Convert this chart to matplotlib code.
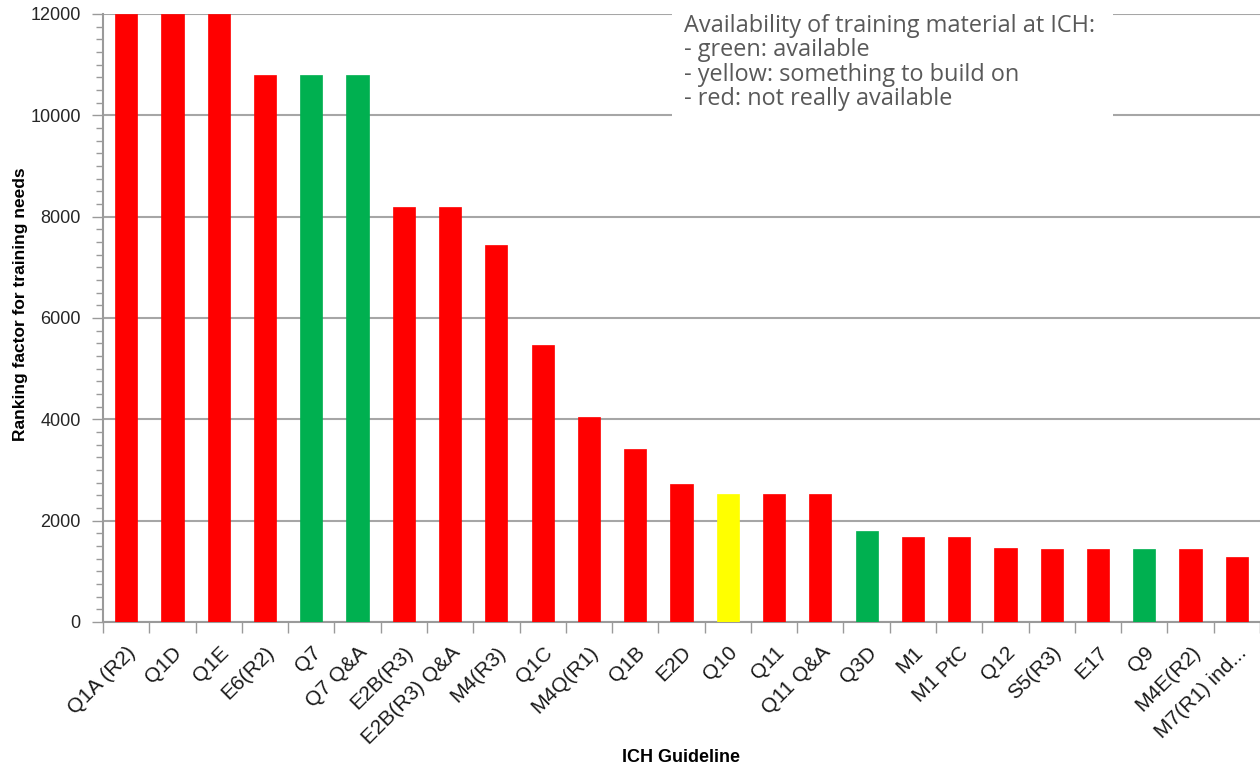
import matplotlib
matplotlib.use('Agg')
import matplotlib.pyplot as plt
import matplotlib.patches as patches
from matplotlib.ticker import MultipleLocator

# guidelines, ranking factor and availability colour
guidelines = ["Q1A (R2)", "Q1D", "Q1E", "E6(R2)", "Q7", "Q7 Q&A", "E2B(R3)",
              "E2B(R3) Q&A", "M4(R3)", "Q1C", "M4Q(R1)", "Q1B", "E2D", "Q10",
              "Q11", "Q11 Q&A", "Q3D", "M1", "M1 PtC", "Q12", "S5(R3)", "E17",
              "Q9", "M4E(R2)", "M7(R1) ind..."]
ranking = [12000, 12000, 12000, 10800, 10800, 10800, 8200, 8200, 7450, 5460,
           4040, 3420, 2730, 2520, 2520, 2520, 1800, 1680, 1680, 1460, 1440,
           1440, 1440, 1440, 1280]
availability = ["red", "red", "red", "red", "green", "green", "red", "red", "red",
                "red", "red", "red", "red", "yellow", "red", "red", "green", "red",
                "red", "red", "red", "red", "green", "red", "red"]
palette = {"red": "#FF0000", "green": "#00B050", "yellow": "#FFFF00"}

legend_text = ("Availability of training material at ICH:\n"
               "- green: available\n"
               "- yellow: something to build on\n"
               "- red: not really available")

plt.rcParams['font.family'] = ['Liberation Sans', 'DejaVu Sans']

fig = plt.figure(figsize=(12.6, 7.69), dpi=100)
ax = fig.add_axes([103 / 1260, 147 / 769, 1 - 103 / 1260, (622 - 14) / 769])

x = list(range(len(guidelines)))
ax.bar(x, ranking, width=0.48, color=[palette[c] for c in availability],
       edgecolor=[palette[c] for c in availability], linewidth=0.5, zorder=3)

ax.set_xlim(-0.5, len(guidelines) - 0.5)
ax.set_ylim(0, 12000)

# y axis: major every 2000, minor every 250
ax.yaxis.set_major_locator(MultipleLocator(2000))
ax.yaxis.set_minor_locator(MultipleLocator(250))
ax.tick_params(axis='y', which='major', length=8, width=1, color='#9a9a9a',
               labelsize=13, pad=8, labelcolor='#262626')
ax.tick_params(axis='y', which='minor', length=5, width=1, color='#9a9a9a')
ax.grid(axis='y', which='major', color='#a6a6a6', linewidth=1.5, zorder=0)

# x axis: ticks between categories, labels at centres
ax.set_xticks([i - 0.5 for i in range(len(guidelines) + 1)])
ax.set_xticklabels([])
ax.set_xticks(x, minor=True)
ax.set_xticklabels(guidelines, minor=True, rotation=45, ha='right', va='top',
                   rotation_mode='anchor', fontsize=15, color='#1a1a1a')
ax.tick_params(axis='x', which='major', length=8, width=1, color='#9a9a9a')
ax.tick_params(axis='x', which='minor', length=0, pad=15)

for side in ['top', 'right']:
    ax.spines[side].set_visible(False)
for side in ['left', 'bottom']:
    ax.spines[side].set_color('#9a9a9a')
    ax.spines[side].set_linewidth(1.5)

ax.set_ylabel("Ranking factor for training needs", fontsize=12.5, fontweight='bold')
ax.yaxis.set_label_coords(-0.065, 0.523)
fig.text(681 / 1260, 1 - 758 / 769, "ICH Guideline", ha='center', va='center',
         fontsize=13, fontweight='bold')

# white box with availability note
box = patches.Rectangle((672 / 1260, 1 - 125 / 769), (1113 - 672) / 1260, 125 / 769,
                        transform=fig.transFigure, facecolor='white', edgecolor='none',
                        zorder=5)
fig.patches.append(box)
fig.text(684 / 1260, 1 - 14 / 769, legend_text, ha='left', va='top',
         fontsize=16.9, color='#595959', family=['Open Sans', 'DejaVu Sans'],
         linespacing=1.02, zorder=6)

plt.savefig("out.png", dpi=100)
